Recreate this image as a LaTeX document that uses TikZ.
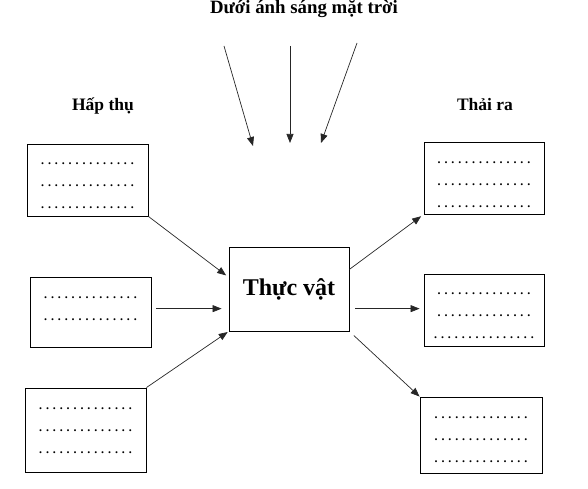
\documentclass[tikz,border=0pt]{standalone}
\usepackage{fontspec}
\setmainfont{Liberation Serif}
\usetikzlibrary{arrows.meta}

\newcommand{\dotdrop}{6pt}
\newcommand{\dotrow}[1][14]{\raisebox{-\dotdrop}[0pt][0pt]{\foreach \k in {1,...,#1}{\makebox[6.9pt]{\bfseries.}}}}

\begin{document}
\begin{tikzpicture}[x=1pt, y=-1pt,
    box/.style={draw, line width=0.9pt, minimum width=121pt, align=center,
                font=\fontsize{12}{22}\selectfont,
                execute at begin node={\renewcommand{\dotdrop}{#1}}},
    box/.default=6pt,
    flow/.style={-{Triangle[length=9pt,width=7pt]}, line width=0.7pt, draw=black!85},
    head/.style={font=\fontsize{17.5}{20}\selectfont\bfseries, anchor=base}]
    \useasboundingbox (0,0) rectangle (588,489);

    % Title and sunlight
    \node[head, font=\fontsize{18.8}{22}\selectfont\bfseries] (sun) at (304,14) {Dưới ánh sáng mặt trời};
    \coordinate (s1) at (224,46);
    \coordinate (s2) at (290,46);
    \coordinate (s3) at (357,43);
    \coordinate (e1) at (253,146);
    \coordinate (e2) at (290,143);
    \coordinate (e3) at (321,143);
    \draw[flow] (s1) -- (e1);
    \draw[flow] (s2) -- (e2);
    \draw[flow] (s3) -- (e3);

    % Side labels
    \node[head] (hapthu) at (103,111) {Hấp thụ};
    \node[head] (thaira) at (485,111) {Thải ra};

    % Plant at center
    \node[draw, line width=0.9pt, minimum width=120pt, minimum height=84pt,
          font=\fontsize{24}{28}\selectfont\bfseries] (plant) at (289,289) {Thực vật};

    % Absorbed (left)
    \node[box=6pt, minimum height=72pt] (inTop) at (87.5,180) {\dotrow\\\dotrow\\\dotrow};
    \node[box=-2.5pt, minimum height=70pt] (inMid) at (90.5,312) {\dotrow\\\dotrow};
    \node[box=1pt, minimum height=84pt] (inBot) at (85.5,430) {\dotrow\\\dotrow\\\dotrow};

    % Released (right)
    \node[box=7.5pt, minimum width=120pt, minimum height=72pt] (outTop) at (484,178) {\dotrow\\\dotrow\\\dotrow};
    \node[box=6pt, minimum width=120pt, minimum height=72pt] (outMid) at (484,310) {\dotrow\\\dotrow\\\dotrow[15]};
    \node[box=5pt, minimum width=122pt, minimum height=76pt] (outBot) at (481,435) {\dotrow\\\dotrow\\\dotrow};

    % Arrows in
    \draw[flow, shorten >=3pt] (inTop.south east) -- (plant.169);
    \draw[flow, shorten <=5pt, shorten >=7pt] (plant.198 -| inMid.east) -- (plant.198);
    \draw[flow, shorten >=1pt] (inBot.north east) -- (plant.south west);

    % Arrows out
    \draw[flow, shorten >=3pt] (plant.18) -- (outTop.south west);
    \draw[flow, shorten <=6pt, shorten >=4pt] (plant.-18) -- (plant.-18 -| outMid.west);
    \draw[flow, shorten <=6pt] (plant.south east) -- (outBot.north west);

\end{tikzpicture}
\end{document}
